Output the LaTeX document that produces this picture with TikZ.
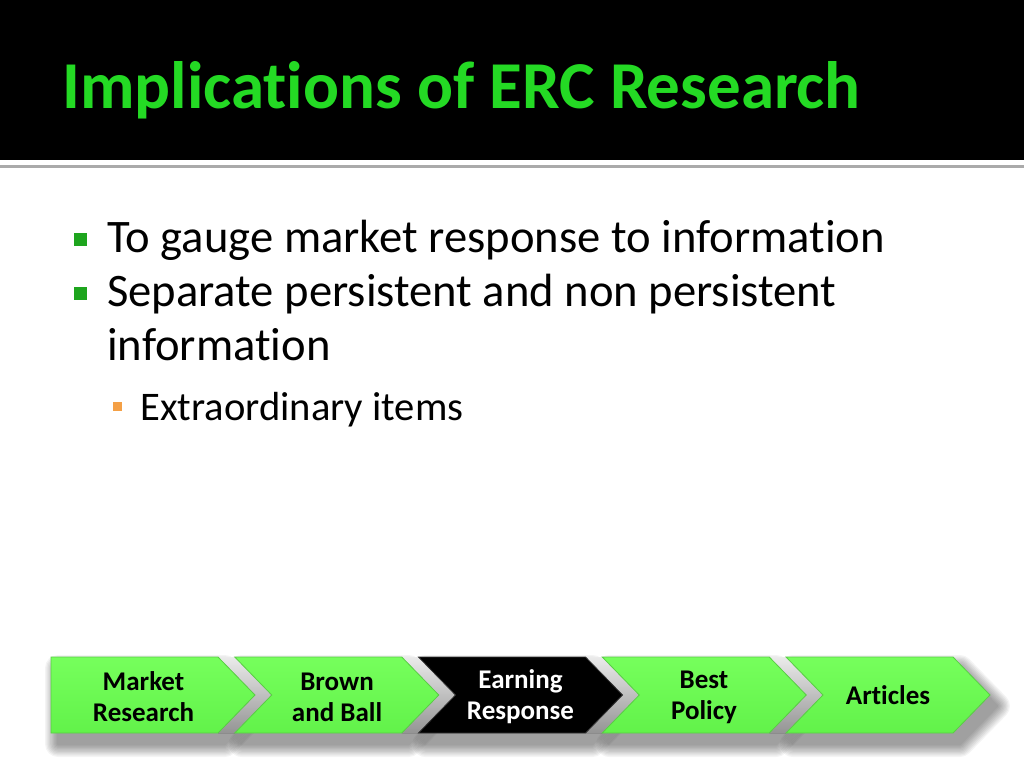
\documentclass[tikz,border=0pt]{standalone}
\usepackage{fontspec}
\setmainfont{Carlito}[Ligatures=NoCommon]
\usetikzlibrary{calc}
\definecolor{titlegreen}{RGB}{36,218,36}
\definecolor{bulletgreen}{RGB}{30,165,30}
\definecolor{bulletorange}{RGB}{244,160,70}
\definecolor{chevtop}{RGB}{118,255,92}
\definecolor{chevbot}{RGB}{98,242,74}
\definecolor{chevedge}{RGB}{90,205,70}
\definecolor{ruleGray}{RGB}{170,170,170}
\newcommand{\flatchev}[1]{(#1,657) -- (#1+167,657) -- (#1+204,695) -- (#1+167,733) -- (#1,733) -- cycle}
\newcommand{\notchchev}[1]{(#1,657) -- (#1+167,657) -- (#1+204,695) -- (#1+167,733) -- (#1,733) -- (#1+37,695) -- cycle}
\newcommand{\sidestrip}[1]{(#1+167,657) -- (#1+184,657) -- (#1+221,695) -- (#1+184,733) -- (#1+167,733) -- (#1+204,695) -- cycle}
\tikzset{
  chevface/.style={top color=chevtop,bottom color=chevbot,draw=chevedge,line width=0.8pt,line join=miter},
  chevdark/.style={fill=black,draw=black!80,line width=0.8pt},
  chevside/.style={top color=black!8,bottom color=black!42,draw=none},
  chevtext/.style={font=\bfseries\fontsize{27}{31}\selectfont,align=center,text=black},
  bodytext/.style={anchor=base west,font=\fontsize{46.6}{54}\selectfont,text=black,inner sep=0pt},
  subtext/.style={anchor=base west,font=\fontsize{40.6}{42}\selectfont,text=black,inner sep=0pt},
  sqbullet/.style={fill=bulletgreen,draw=none,minimum size=13pt,inner sep=0pt},
  subbullet/.style={fill=bulletorange,draw=none,minimum size=9pt,inner sep=0pt},
  shadowlayer/.style={transparency group,opacity=0.042,shift={(7,11)}}
}
\begin{document}
\begin{tikzpicture}[x=1pt,y=-1pt]
\useasboundingbox (0,0) rectangle (1024,768);
\fill[white] (0,0) rectangle (1024,768);
% header
\fill[black] (0,0) rectangle (1024,160);
\fill[ruleGray] (0,165) rectangle (1024,167.5);
\node[anchor=base west,inner sep=0pt,text=titlegreen,font=\bfseries\fontsize{67}{67}\selectfont] (title) at (62,108) {Implications of ERC Research};
% bullets
\node[sqbullet] (b1) at (80,239) {};
\node[bodytext] (t1) at (107,252) {To gauge market response to information};
\node[sqbullet] (b2) at (80,293) {};
\node[bodytext] (t2) at (107,306) {Separate persistent and non persistent};
\node[bodytext] (t3) at (107,360) {information};
\node[subbullet] (b3) at (117,406) {};
\node[subtext] (t4) at (140,420) {Extraordinary items};
% blurred drop shadows
\foreach \i in {1,...,10}{
  \begin{scope}[shadowlayer]
    \filldraw[black,line width=\i*2.6pt,line join=round] \flatchev{51};
  \end{scope}
  \foreach \L in {234.75,418.5,602.25,786}{
    \begin{scope}[shadowlayer]
      \filldraw[black,line width=\i*2.6pt,line join=round] \notchchev{\L};
    \end{scope}
  }
}
% side strips
\foreach \L in {51,234.75,418.5,602.25}{
  \fill[chevside] \sidestrip{\L};
}
% faces
\path[chevface] \flatchev{51};
\path[chevface] \notchchev{234.75};
\path[chevdark] \notchchev{418.5};
\path[chevface] \notchchev{602.25};
\path[chevface] \notchchev{786};
% labels
\node[chevtext] (c1) at (143.5,697) {Market\\Research};
\node[chevtext] (c2) at (337,697) {Brown\\and Ball};
\node[chevtext,text=white] (c3) at (520.5,697) {Earning\\Response};
\node[chevtext] (c4) at (704,697) {Best\\Policy};
\node[chevtext] (c5) at (888,695) {Articles};
\end{tikzpicture}
\end{document}
